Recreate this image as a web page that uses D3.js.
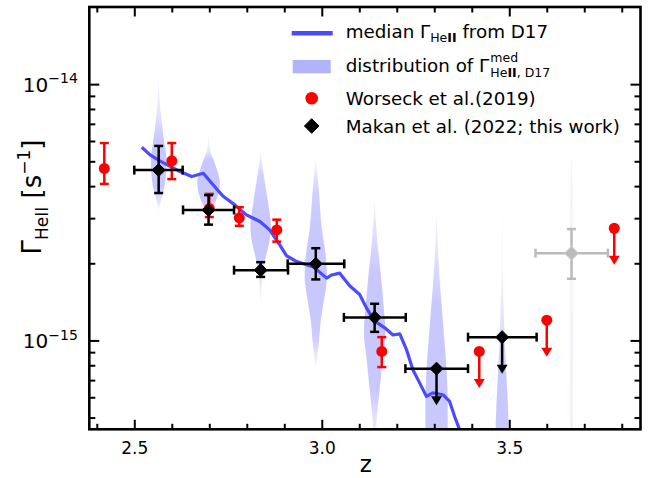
<!DOCTYPE html>
<html>
<head>
<meta charset="utf-8">
<style>
  body { margin: 0; background: #fff; }
  text { font-family: "DejaVu Sans", sans-serif; }
</style>
</head>
<body>
<svg id="chart" width="662" height="478"></svg>
<script src="https://d3js.org/d3.v7.min.js"></script>
<script>

// ticks
var xMajor = [2.5, 3.0, 3.5],
    xMinor = [2.4, 2.6, 2.7, 2.8, 2.9, 3.1, 3.2, 3.3, 3.4, 3.6, 3.7, 3.8],
    yMajor = [1e-15, 1e-14],
    yMinor = [5e-16, 6e-16, 7e-16, 8e-16, 9e-16, 2e-15, 3e-15, 4e-15, 5e-15, 6e-15, 7e-15, 8e-15, 9e-15];

// median Gamma_HeII from D17
var medianZ = [2.520, 2.542, 2.568, 2.622, 2.653, 2.684, 2.710, 2.737, 2.768, 2.799, 2.835, 2.861, 2.888, 2.906, 2.933, 2.977, 3.013, 3.026, 3.048, 3.061, 3.075, 3.101, 3.119, 3.141, 3.168, 3.190, 3.208, 3.226, 3.243, 3.261, 3.279, 3.296, 3.323, 3.341, 3.354, 3.366, 3.375];
var medianG = [5.67e-15, 5.30e-15, 5.02e-15, 4.56e-15, 4.36e-15, 4.49e-15, 4.05e-15, 3.65e-15, 3.38e-15, 3.09e-15, 2.91e-15, 2.70e-15, 2.36e-15, 2.14e-15, 2.03e-15, 1.94e-15, 1.75e-15, 1.80e-15, 1.83e-15, 1.73e-15, 1.63e-15, 1.51e-15, 1.34e-15, 1.19e-15, 1.12e-15, 1.05e-15, 1.06e-15, 9.20e-16, 7.69e-16, 6.83e-16, 6.05e-16, 6.24e-16, 6.14e-16, 5.78e-16, 5.06e-16, 4.55e-16, 3.8e-16];

// distribution of Gamma^med (violins): centre z, then [Gamma, half width in z]
var violinZ = [2.565, 2.698, 2.837, 2.984, 3.141, 3.306, 3.481, 3.666];
var violinShapes = [
  [[1.09e-14, 0], [7.94e-15, 0.0045], [6.07e-15, 0.014], [5.07e-15, 0.0208], [3.99e-15, 0.0155], [3.54e-15, 0.006], [3.18e-15, 0]],
  [[6.46e-15, 0], [5.54e-15, 0.004], [5.07e-15, 0.0133], [4.11e-15, 0.0301], [3.54e-15, 0.0208], [3.24e-15, 0.008], [3.09e-15, 0]],
  [[5.46e-15, 0], [4.36e-15, 0.0088], [3.43e-15, 0.02], [2.78e-15, 0.0274], [2.33e-15, 0.0208], [2.06e-15, 0.012], [1.78e-15, 0.0053], [1.36e-15, 0]],
  [[5.14e-15, 0], [3.76e-15, 0.0088], [2.78e-15, 0.0155], [2.19e-15, 0.0258], [1.78e-15, 0.0298], [1.44e-15, 0.0221], [1.20e-15, 0.0133], [1.01e-15, 0.009], [8.66e-16, 0.004], [7.69e-16, 0]],
  [[3.64e-15, 0], [2.47e-15, 0.0067], [1.83e-15, 0.016], [1.36e-15, 0.024], [1.07e-15, 0.0288], [8.66e-16, 0.0221], [6.42e-16, 0.0133], [4.91e-16, 0.0053], [4.1e-16, 0.0027]],
  [[3.24e-15, 0], [1.83e-15, 0.0072], [1.36e-15, 0.014], [1.01e-15, 0.0208], [7.46e-16, 0.0274], [5.53e-16, 0.0298], [4.1e-16, 0.0298]],
  [[4.24e-15, 0], [1.83e-15, 0.0019], [1.01e-15, 0.0067], [7.46e-16, 0.011], [5.53e-16, 0.0155], [4.1e-16, 0.018]],
  [[5.25e-15, 0], [4.0e-15, 0.0027], [4.1e-16, 0.0032]]
];

// Worseck et al. (2019)
var worseckZ = [2.42, 2.60, 2.70, 2.78, 2.88, 3.16],
    worseckG = [4.69e-15, 5.02e-15, 3.27e-15, 3.01e-15, 2.70e-15, 9.06e-16],
    worseckHi = [5.89e-15, 5.89e-15, 3.73e-15, 3.31e-15, 2.96e-15, 1.03e-15],
    worseckLo = [4.08e-15, 4.26e-15, 3.03e-15, 2.80e-15, 2.43e-15, 7.87e-16];
var worseckLimZ = [3.42, 3.60, 3.78],
    worseckLimG = [9.06e-16, 1.20e-15, 2.74e-15];

// Makan et al. (2022)
var makanZ = [2.565, 2.698, 2.837, 2.984, 3.141],
    makanZlo = [2.500, 2.630, 2.766, 2.909, 3.059],
    makanZhi = [2.629, 2.766, 2.910, 3.060, 3.224],
    makanG = [4.62e-15, 3.23e-15, 1.88e-15, 1.99e-15, 1.23e-15],
    makanHi = [5.74e-15, 3.69e-15, 2.02e-15, 2.29e-15, 1.39e-15],
    makanLo = [3.76e-15, 2.83e-15, 1.77e-15, 1.73e-15, 1.08e-15];
var makanLimZ = [3.306, 3.481],
    makanLimZlo = [3.223, 3.390],
    makanLimZhi = [3.390, 3.573],
    makanLimG = [7.76e-16, 1.03e-15];
var greyZ = [3.666], greyZlo = [3.570], greyZhi = [3.763],
    greyG = [2.19e-15], greyHi = [2.72e-15], greyLo = [1.74e-15];

var svg = d3.select("#chart"),
    margin = {top: 7, right: 21.5, bottom: 48.7, left: 89.3},
    width = 662 - margin.left - margin.right,
    height = 478 - margin.top - margin.bottom,
    g = svg.append("g").attr("transform", "translate(" + margin.left + "," + margin.top + ")");

var x = d3.scaleLinear().domain([2.38, 3.85]).range([0, width]);
var y = d3.scaleLog().domain([4.5e-16, 2e-14]).range([height, 0]);

var limFrac = 0.75, cap = 4.5;

var defs = svg.append("defs");
defs.append("clipPath").attr("id", "clip")
  .append("rect").attr("width", width).attr("height", height);
var plot = g.append("g").attr("clip-path", "url(#clip)");

// violins, fading where the distribution thins out
violinShapes.forEach(function(shape, i) {
  var c = violinZ[i],
      y1 = y(shape[0][0]),
      y2 = y(shape[shape.length - 1][0]);
  var grad = defs.append("linearGradient")
      .attr("id", "vgrad" + i)
      .attr("gradientUnits", "userSpaceOnUse")
      .attr("x1", 0).attr("x2", 0).attr("y1", y1).attr("y2", y2);
  grad.selectAll("stop")
    .data(shape)
    .enter().append("stop")
      .attr("offset", function(d) { return (y(d[0]) - y1) / (y2 - y1); })
      .attr("stop-color", "#c8c8ff")
      .attr("stop-opacity", function(d) { return Math.max(0.12, Math.min(1, d[1] / 0.01)); });
  plot.append("path")
      .datum(shape)
      .attr("fill", "url(#vgrad" + i + ")")
      .attr("d", d3.area()
        .curve(d3.curveMonotoneY)
        .y(function(d) { return y(d[0]); })
        .x0(function(d) { return x(c - d[1]); })
        .x1(function(d) { return x(c + d[1]); }));
});

// median line
plot.append("path")
    .datum(medianZ)
    .attr("fill", "none")
    .attr("stroke", "#4b4bff")
    .attr("stroke-width", 3.2)
    .attr("stroke-linejoin", "round")
    .attr("d", d3.line()
      .x(function(d) { return x(d); })
      .y(function(d, i) { return y(medianG[i]); }));

function seg(p, x1, y1, x2, y2, color) {
  p.append("line").attr("x1", x1).attr("y1", y1).attr("x2", x2).attr("y2", y2)
    .attr("stroke", color).attr("stroke-width", 2.5);
}
function vbar(p, px, y1, y2, color) {
  seg(p, px, y1, px, y2, color);
  seg(p, px - cap, y1, px + cap, y1, color);
  seg(p, px - cap, y2, px + cap, y2, color);
}
function hbar(p, x1, x2, py, color) {
  seg(p, x1, py, x2, py, color);
  seg(p, x1, py - cap, x1, py + cap, color);
  seg(p, x2, py - cap, x2, py + cap, color);
}
function arrow(p, px, y1, y2, color) {
  seg(p, px, y1, px, y2, color);
  p.append("path")
    .attr("d", "M" + (px - 5.5) + "," + (y2 - 4.5) + "L" + (px + 5.5) + "," + (y2 - 4.5) + "L" + px + "," + (y2 + 4.5) + "Z")
    .attr("fill", color);
}
function diamond(p, px, py, r, fill, stroke) {
  p.append("path")
    .attr("d", "M" + px + "," + (py - r) + "L" + (px + r) + "," + py + "L" + px + "," + (py + r) + "L" + (px - r) + "," + py + "Z")
    .attr("fill", fill).attr("stroke", stroke).attr("stroke-width", 1);
}

var pts = g.append("g");

// Worseck
worseckZ.forEach(function(z, i) {
  vbar(pts, x(z), y(worseckHi[i]), y(worseckLo[i]), "red");
  pts.append("circle").attr("cx", x(z)).attr("cy", y(worseckG[i])).attr("r", 5.5).attr("fill", "red");
});
worseckLimZ.forEach(function(z, i) {
  arrow(pts, x(z), y(worseckLimG[i]), y(worseckLimG[i] * limFrac), "red");
  pts.append("circle").attr("cx", x(z)).attr("cy", y(worseckLimG[i])).attr("r", 5.5).attr("fill", "red");
});

// Makan
makanZ.forEach(function(z, i) {
  hbar(pts, x(makanZlo[i]), x(makanZhi[i]), y(makanG[i]), "#000");
  vbar(pts, x(z), y(makanHi[i]), y(makanLo[i]), "#000");
  diamond(pts, x(z), y(makanG[i]), 6.5, "#000", "#000");
});
makanLimZ.forEach(function(z, i) {
  hbar(pts, x(makanLimZlo[i]), x(makanLimZhi[i]), y(makanLimG[i]), "#000");
  arrow(pts, x(z), y(makanLimG[i]), y(makanLimG[i] * limFrac), "#000");
  diamond(pts, x(z), y(makanLimG[i]), 6.5, "#000", "#000");
});
greyZ.forEach(function(z, i) {
  hbar(pts, x(greyZlo[i]), x(greyZhi[i]), y(greyG[i]), "#bbbbbb");
  vbar(pts, x(z), y(greyHi[i]), y(greyLo[i]), "#bbbbbb");
  diamond(pts, x(z), y(greyG[i]), 7, "#bbbbbb", "#d0d0d0");
});

// axes, ticks inward on all four sides
function styleAxis(a, fs) {
  a.select(".domain").remove();
  a.attr("font-size", fs).selectAll("line").attr("stroke-width", 2);
}
g.append("g").attr("transform", "translate(0," + height + ")")
    .call(d3.axisBottom(x).tickValues(xMajor).tickSize(-9.5).tickPadding(12.5).tickFormat(d3.format(".1f")))
    .call(styleAxis, 17);
g.append("g").attr("transform", "translate(0," + height + ")")
    .call(d3.axisBottom(x).tickValues(xMinor).tickSize(-5.5).tickFormat(""))
    .call(styleAxis, 17);
g.append("g")
    .call(d3.axisTop(x).tickValues(xMajor).tickSize(-9.5).tickFormat(""))
    .call(styleAxis, 17);
g.append("g")
    .call(d3.axisTop(x).tickValues(xMinor).tickSize(-5.5).tickFormat(""))
    .call(styleAxis, 17);

var yAxis = g.append("g")
    .call(d3.axisLeft(y).tickValues(yMajor).tickSize(-10).tickPadding(11.5))
    .call(styleAxis, 20);
yAxis.selectAll(".tick text").attr("dy", "0.37em").each(function(d) {
  var t = d3.select(this).text("");
  t.append("tspan").text("10");
  t.append("tspan").attr("font-size", 14).attr("dy", "-0.62em").text("\u2212" + (-Math.round(Math.log10(d))));
});
g.append("g")
    .call(d3.axisLeft(y).tickValues(yMinor).tickSize(-6).tickFormat(""))
    .call(styleAxis, 20);
g.append("g").attr("transform", "translate(" + width + ",0)")
    .call(d3.axisRight(y).tickValues(yMajor).tickSize(-10).tickFormat(""))
    .call(styleAxis, 20);
g.append("g").attr("transform", "translate(" + width + ",0)")
    .call(d3.axisRight(y).tickValues(yMinor).tickSize(-6).tickFormat(""))
    .call(styleAxis, 20);

g.append("rect")
    .attr("width", width).attr("height", height)
    .attr("fill", "none").attr("stroke", "#000").attr("stroke-width", 2.6);

// axis titles
svg.append("text")
    .attr("x", 365.7).attr("y", 472)
    .attr("text-anchor", "middle").attr("font-size", 23)
    .text("z");

var yl = svg.append("text")
    .attr("transform", "translate(41,197) rotate(-90)")
    .attr("text-anchor", "middle").attr("font-size", 26);
yl.append("tspan").text("\u0393");
yl.append("tspan").attr("font-size", 17).attr("dy", 7).text("HeII");
yl.append("tspan").attr("dy", -7).text(" [s");
yl.append("tspan").attr("font-size", 17).attr("dy", -11).text("\u22121");
yl.append("tspan").attr("dy", 11).text("]");

// legend
var lg = svg.append("g").attr("font-size", 18.3),
    lx = 345.7;
lg.append("line").attr("x1", 291.7).attr("x2", 332.7).attr("y1", 33.3).attr("y2", 33.3)
  .attr("stroke", "#4b4bff").attr("stroke-width", 4.5);
var t1 = lg.append("text").attr("x", lx).attr("y", 37.5);
t1.append("tspan").text("median \u0393");
t1.append("tspan").attr("font-size", 12.5).attr("dy", 4).text("He");
t1.append("tspan").attr("font-size", 12.5).attr("font-weight", "bold").text("II");
t1.append("tspan").attr("dy", -4).text(" from D17");

lg.append("rect").attr("x", 292.7).attr("y", 60).attr("width", 38).attr("height", 13.3)
  .attr("fill", "#b3b3fc");
var t2 = lg.append("text").attr("x", lx).attr("y", 71.5).text("distribution of \u0393");
var w2 = t2.node().getComputedTextLength();
lg.append("text").attr("x", lx + w2 + 1).attr("y", 62).attr("font-size", 12.5).text("med");
var t2s = lg.append("text").attr("x", lx + w2 + 1).attr("y", 76.5).attr("font-size", 12.5);
t2s.append("tspan").text("He");
t2s.append("tspan").attr("font-weight", "bold").text("II");
t2s.append("tspan").text(", D17");

lg.append("circle").attr("cx", 311.7).attr("cy", 98.3).attr("r", 6.3).attr("fill", "red");
lg.append("text").attr("x", lx).attr("y", 104.5).text("Worseck et al.(2019)");
diamond(lg, 311.7, 126, 7.3, "#000", "#000");
lg.append("text").attr("x", lx).attr("y", 132.5).text("Makan et al. (2022; this work)");

</script>
</body>
</html>
